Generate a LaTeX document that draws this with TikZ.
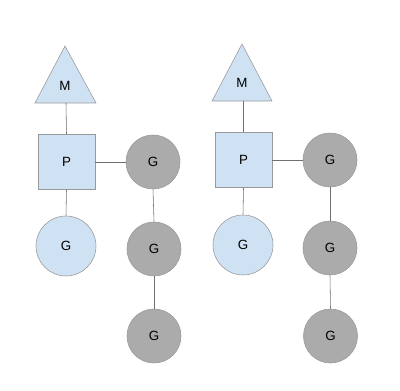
\documentclass[tikz,border=0pt]{standalone}
\usepackage{fontspec}
\setmainfont{Liberation Sans}
\definecolor{lightblue}{HTML}{CFE2F3}
\definecolor{gfill}{HTML}{ABABAB}
\definecolor{edgegray}{HTML}{999999}
\definecolor{linkgray}{HTML}{707070}

\begin{document}
\begin{tikzpicture}[x=0.05cm,y=-0.05cm,
  label/.style={font=\fontsize{19}{21}\selectfont},
  pbox/.style={draw=edgegray,fill=lightblue,line width=0.8pt,minimum width=2.85cm,minimum height=2.75cm,label},
  gblue/.style={circle,draw=edgegray,fill=lightblue,line width=0.8pt,minimum size=3cm,label},
  ggray/.style={circle,draw=edgegray,fill=gfill,line width=0.8pt,minimum size=2.7cm,label},
  mtri/.style={draw=edgegray,fill=lightblue,line width=0.8pt},
  link/.style={draw=linkgray,line width=0.8pt}]
  \useasboundingbox[fill=white] (0,0) rectangle (400,391);
  % left
  \draw[mtri] (65,46) -- (96,103) -- (35,103) -- cycle;
  \coordinate (m1b) at (66,103);
  \node[label] (m1) at (65,86){M};
  \node[pbox] (p1) at (66.5,162){P};
  \node[gblue] (g1) at (66,246){G};
  \node[ggray] (q1) at (153,162){G};
  \node[ggray] (q2) at (154,249){G};
  \node[ggray] (q3) at (154,336){G};
  \draw[link] (m1b) -- (p1.north);
  \draw[link] (p1.south) -- (g1.north);
  \draw[link] (p1.east) -- (q1.west);
  \draw[link] (q1.south) -- (q2.north);
  \draw[link] (q2.south) -- (q3.north);
  % right
  \draw[mtri] (242,44) -- (272,101) -- (212,101) -- cycle;
  \coordinate (m2b) at (243.5,101);
  \node[label] (m2) at (242,83){M};
  \node[pbox] (p2) at (243.5,160){P};
  \node[gblue] (g2) at (243,245){G};
  \node[ggray] (r1) at (330,160){G};
  \node[ggray] (r2) at (330,248){G};
  \node[ggray] (r3) at (330.5,336){G};
  \draw[link] (m2b) -- (p2.north);
  \draw[link] (p2.south) -- (g2.north);
  \draw[link] (p2.east) -- (r1.west);
  \draw[link] (r1.south) -- (r2.north);
  \draw[link] (r2.south) -- (r3.north);
\end{tikzpicture}
\end{document}
